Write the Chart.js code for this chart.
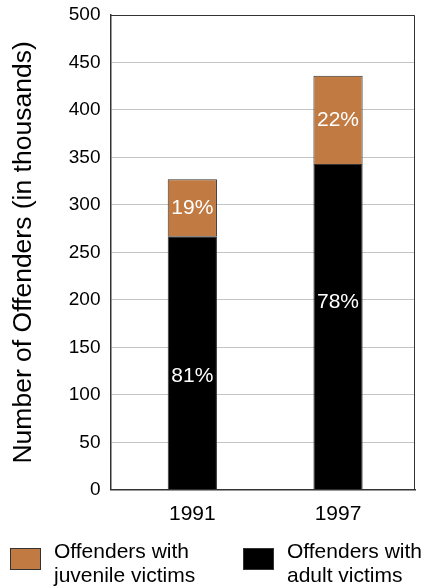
<!DOCTYPE html>
<html>
<head>
<meta charset="utf-8">
<script src="https://cdn.jsdelivr.net/npm/chart.js@4"></script>
<style>
  html, body { margin: 0; padding: 0; background: #fff; }
  #wrap { position: relative; width: 425px; height: 588px; font-family: "Liberation Sans", Arial, sans-serif; }
  canvas { position: absolute; left: 0; top: 0; }
  .leg { position: absolute; font-size: 21px; line-height: 24px; color: #000; white-space: nowrap; }
  .box { position: absolute; width: 29px; height: 20px; border: 1px solid #333; }
</style>
</head>
<body>
<div id="wrap">
  <canvas id="c" width="425" height="588"></canvas>
  <div class="box" style="left:10px; top:548px; background:#C17A41;"></div>
  <div class="leg" style="left:54px; top:539px;">Offenders with<br>juvenile victims</div>
  <div class="box" style="left:243px; top:548px; background:#000;"></div>
  <div class="leg" style="left:287px; top:539px;">Offenders with<br>adult victims</div>
</div>
<script>
const years = [1991, 1997];
const adultVictims = [267, 343];
const juvenileVictims = [60, 93];
const adultPct = ['81%', '78%'];
const juvenilePct = ['19%', '22%'];
const yTicks = [0, 50, 100, 150, 200, 250, 300, 350, 400, 450, 500];

const FONT = '"Liberation Sans", Arial, sans-serif';

const framePlugin = {
  id: 'frame',
  afterDraw(chart) {
    const a = chart.chartArea, ctx = chart.ctx;
    ctx.save();
    ctx.strokeStyle = '#333';
    ctx.lineWidth = 1;
    ctx.beginPath();
    ctx.moveTo(a.left, a.top + 0.5);
    ctx.lineTo(a.right - 0.5, a.top + 0.5);
    ctx.lineTo(a.right - 0.5, a.bottom);
    ctx.stroke();
    ctx.restore();
  }
};

const labelPlugin = {
  id: 'pctLabels',
  afterDatasetsDraw(chart) {
    const ctx = chart.ctx;
    const y = chart.scales.y;
    ctx.save();
    ctx.fillStyle = '#fff';
    ctx.font = '21px ' + FONT;
    ctx.textAlign = 'center';
    ctx.textBaseline = 'middle';
    const m0 = chart.getDatasetMeta(0), m1 = chart.getDatasetMeta(1);
    years.forEach((yr, i) => {
      const ya = y.getPixelForValue(adultVictims[i] * (i === 0 ? 0.45 : 0.575));
      ctx.fillText(adultPct[i], m0.data[i].x, ya);
      const yj = y.getPixelForValue(adultVictims[i] + juvenileVictims[i] / 2);
      ctx.fillText(juvenilePct[i], m1.data[i].x, yj);
    });
    ctx.restore();
  }
};

new Chart(document.getElementById('c'), {
  type: 'bar',
  data: {
    datasets: [
      {
        label: 'Offenders with adult victims',
        data: years.map((yr, i) => ({ x: yr, y: adultVictims[i] })),
        backgroundColor: '#000',
        borderColor: '#333',
        borderWidth: 1,
        barPercentage: 0.338,
        categoryPercentage: 1
      },
      {
        label: 'Offenders with juvenile victims',
        data: years.map((yr, i) => ({ x: yr, y: juvenileVictims[i] })),
        backgroundColor: '#C17A41',
        borderColor: '#333',
        borderWidth: 1,
        barPercentage: 0.338,
        categoryPercentage: 1
      }
    ]
  },
  options: {
    responsive: false,
    animation: false,
    layout: { padding: { top: 15, right: 10, bottom: 49, left: 8 } },
    plugins: { legend: { display: false }, tooltip: { enabled: false } },
    scales: {
      x: {
        type: 'linear',
        stacked: true,
        offset: false,
        min: 1987.63,
        max: 2000.17,
        afterBuildTicks(axis) { axis.ticks = years.map(v => ({ value: v })); },
        ticks: {
          color: '#000',
          font: { family: FONT, size: 21 },
          padding: 12,
          maxRotation: 0,
          callback: v => String(v)
        },
        grid: { display: false, drawTicks: false, offset: false },
        border: { display: true, color: '#333', width: 1.5 }
      },
      y: {
        stacked: true,
        min: 0,
        max: 500,
        afterBuildTicks(axis) { axis.ticks = yTicks.map(v => ({ value: v })); },
        afterFit(axis) { axis.paddingTop = 0; axis.paddingBottom = 0; },
        ticks: {
          color: '#000',
          font: { family: FONT, size: 19 },
          padding: 10
        },
        grid: { color: '#c4c4c4', lineWidth: 1, drawTicks: false },
        border: { display: true, color: '#333', width: 1.5 },
        title: {
          display: true,
          text: 'Number of Offenders (in thousands)',
          color: '#000',
          font: { family: FONT, size: 26.5 },
          padding: { top: 0, bottom: 19 }
        }
      }
    }
  },
  plugins: [framePlugin, labelPlugin]
});
</script>
</body>
</html>
